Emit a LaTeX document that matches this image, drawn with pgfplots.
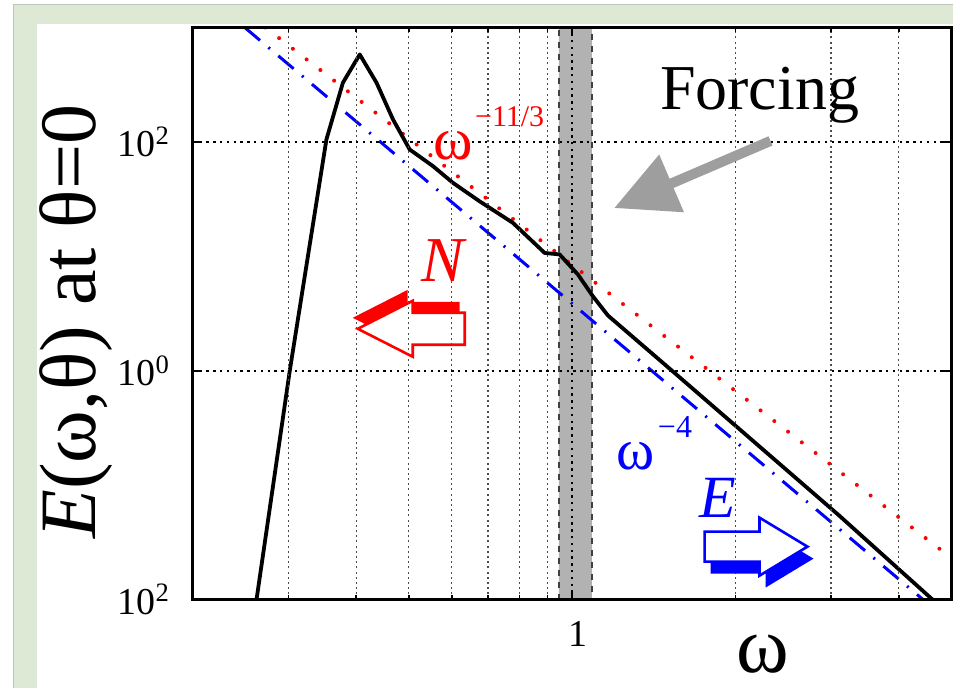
\documentclass[border=0pt]{standalone}
\usepackage{fontspec}
\setmainfont{Liberation Serif}
\usepackage{pgfplots}
\pgfplotsset{compat=1.18}
\definecolor{panelgreen}{RGB}{221,232,213}
\definecolor{paneledge}{RGB}{188,198,180}
\definecolor{forcegray}{RGB}{158,158,158}
\begin{document}
\begin{tikzpicture}
% page background, in pixel units with the origin at the top left
\begin{scope}[x=0.5pt,y=-0.5pt]
  \fill[white] (0,0) rectangle (954,688);
  \fill[panelgreen] (13,4.5) rectangle (954,24);
  \fill[panelgreen] (13,4.5) rectangle (37,688);
  \draw[paneledge, line width=0.6pt] (13.3,688) -- (13.3,4.8) -- (954,4.8);
\end{scope}

\begin{axis}[
  at={(96.5pt,-300pt)}, anchor=south west,
  scale only axis, width=379.5pt, height=286.25pt,
  xmode=log, ymode=log,
  xmin=0.2, xmax=5, ymin=1e-2, ymax=1e3,
  xtick={1}, xticklabels={1},
  minor xtick={0.2,0.3,0.4,0.5,0.6,0.7,0.8,0.9,2,3,4,5},
  ytick={1e-2,1,1e2},
  yticklabels={10\textsuperscript{2},10\textsuperscript{0},10\textsuperscript{2}},
  yminorticks=false,
  xmajorgrids, xminorgrids, ymajorgrids,
  major grid style={black, line width=0.75pt, dash pattern=on 1.2pt off 2.2pt},
  minor grid style={black!70, line width=0.65pt, dash pattern=on 1pt off 1.6pt},
  axis on top,
  axis line style={line width=1.6pt},
  tick style={black, line width=0.8pt},
  major tick length=4pt, minor tick length=2.5pt,
  tick label style={font=\fontsize{19}{19}\selectfont},
  yticklabel style={xshift=-8pt},
  xticklabel style={yshift=-7.5pt, xshift=3pt},
]
% forcing band
\addplot[fill=gray!60, draw=black!75, dashed, line width=0.7pt]
  coordinates {(0.945,1e-2) (0.945,1e3) (1.087,1e3) (1.087,1e-2) (0.945,1e-2)};

% reference power laws
\addplot[red, line width=2pt, line cap=round, dash pattern=on 0pt off 8.7pt]
  coordinates {(0.272,1000) (5,0.0231)};
\addplot[blue, line width=1.5pt, dash pattern=on 10pt off 5.5pt on 1pt off 5.5pt]
  coordinates {(0.2492,1000) (4.434,0.01)};

% spectrum
\addplot[black, line width=1.9pt, line join=round] coordinates {
  (0.262,0.01) (0.3017,1.0) (0.3525,105) (0.378,329) (0.406,581)
  (0.436,329) (0.4676,157) (0.5018,85.9) (0.554,61.4) (0.603,43.9)
  (0.675,30.3) (0.778,19.6) (0.890,10.7) (0.948,10.4) (1.025,6.93)
  (1.092,4.48) (1.164,3.04) (1.51,1.05) (2.006,0.327) (3.100,0.0547)
  (4.616,0.01)
};
\end{axis}

% annotations, in pixel units
\begin{scope}[x=0.5pt,y=-0.5pt]
  % forcing arrow
  \fill[forcegray] (769,136.4) -- (670,178.9) -- (659.6,154.6) -- (615,208)
    -- (684.4,212.4) -- (674,188.1) -- (773,145.6) -- cycle;
  \node[font=\fontsize{32}{32}\selectfont, anchor=base, inner sep=0] at (760,110) {Forcing};

  % N flux arrow (leftward)
  \begin{scope}[even odd rule]
    \clip (0,0) rectangle (954,688)
      (358,329) -- (413,301) -- (413,313) -- (465,313) -- (465,345) -- (413,345) -- (413,357) -- cycle;
    \fill[red, shift={(-5,-11)}]
      (358,329) -- (413,301) -- (413,313) -- (465,313) -- (465,345) -- (413,345) -- (413,357) -- cycle;
  \end{scope}
  \draw[red, line width=1.3pt, line join=miter]
    (358,329) -- (413,301) -- (413,313) -- (465,313) -- (465,345) -- (413,345) -- (413,357) -- cycle;

  % E flux arrow (rightward)
  \begin{scope}[even odd rule]
    \clip (0,0) rectangle (954,688)
      (705,532) -- (760,532) -- (760,518) -- (808,547) -- (760,576) -- (760,562) -- (705,562) -- cycle;
    \fill[blue, shift={(6,12)}]
      (705,532) -- (760,532) -- (760,518) -- (808,547) -- (760,576) -- (760,562) -- (705,562) -- cycle;
  \end{scope}
  \draw[blue, line width=1.3pt, line join=miter]
    (705,532) -- (760,532) -- (760,518) -- (808,547) -- (760,576) -- (760,562) -- (705,562) -- cycle;

  % labels
  \node[red, font=\fontsize{30}{30}\selectfont, anchor=base west, inner sep=0] at (433,160) {ω};
  \node[red, font=\fontsize{15}{15}\selectfont, anchor=base west, inner sep=0] at (475,127) {−11/3};
  \node[blue, font=\fontsize{29}{29}\selectfont, anchor=base west, inner sep=0] at (616,470) {ω};
  \node[blue, font=\fontsize{16}{16}\selectfont, anchor=base west, inner sep=0] at (658,438) {−4};
  \node[red, font=\fontsize{32}{32}\selectfont\itshape, anchor=base west, inner sep=0] at (421,282) {N};
  \node[blue, font=\fontsize{30}{30}\selectfont\itshape, anchor=base west, inner sep=0] at (700,518) {E};

  % axis titles
  \node[rotate=90, font=\fontsize{40}{40}\selectfont, inner sep=0] at (76,322) {\textit{E}(ω,θ) at θ=0};
  \node[font=\fontsize{40}{40}\selectfont, inner sep=0] at (763,655) {ω};
\end{scope}
\end{tikzpicture}
\end{document}
